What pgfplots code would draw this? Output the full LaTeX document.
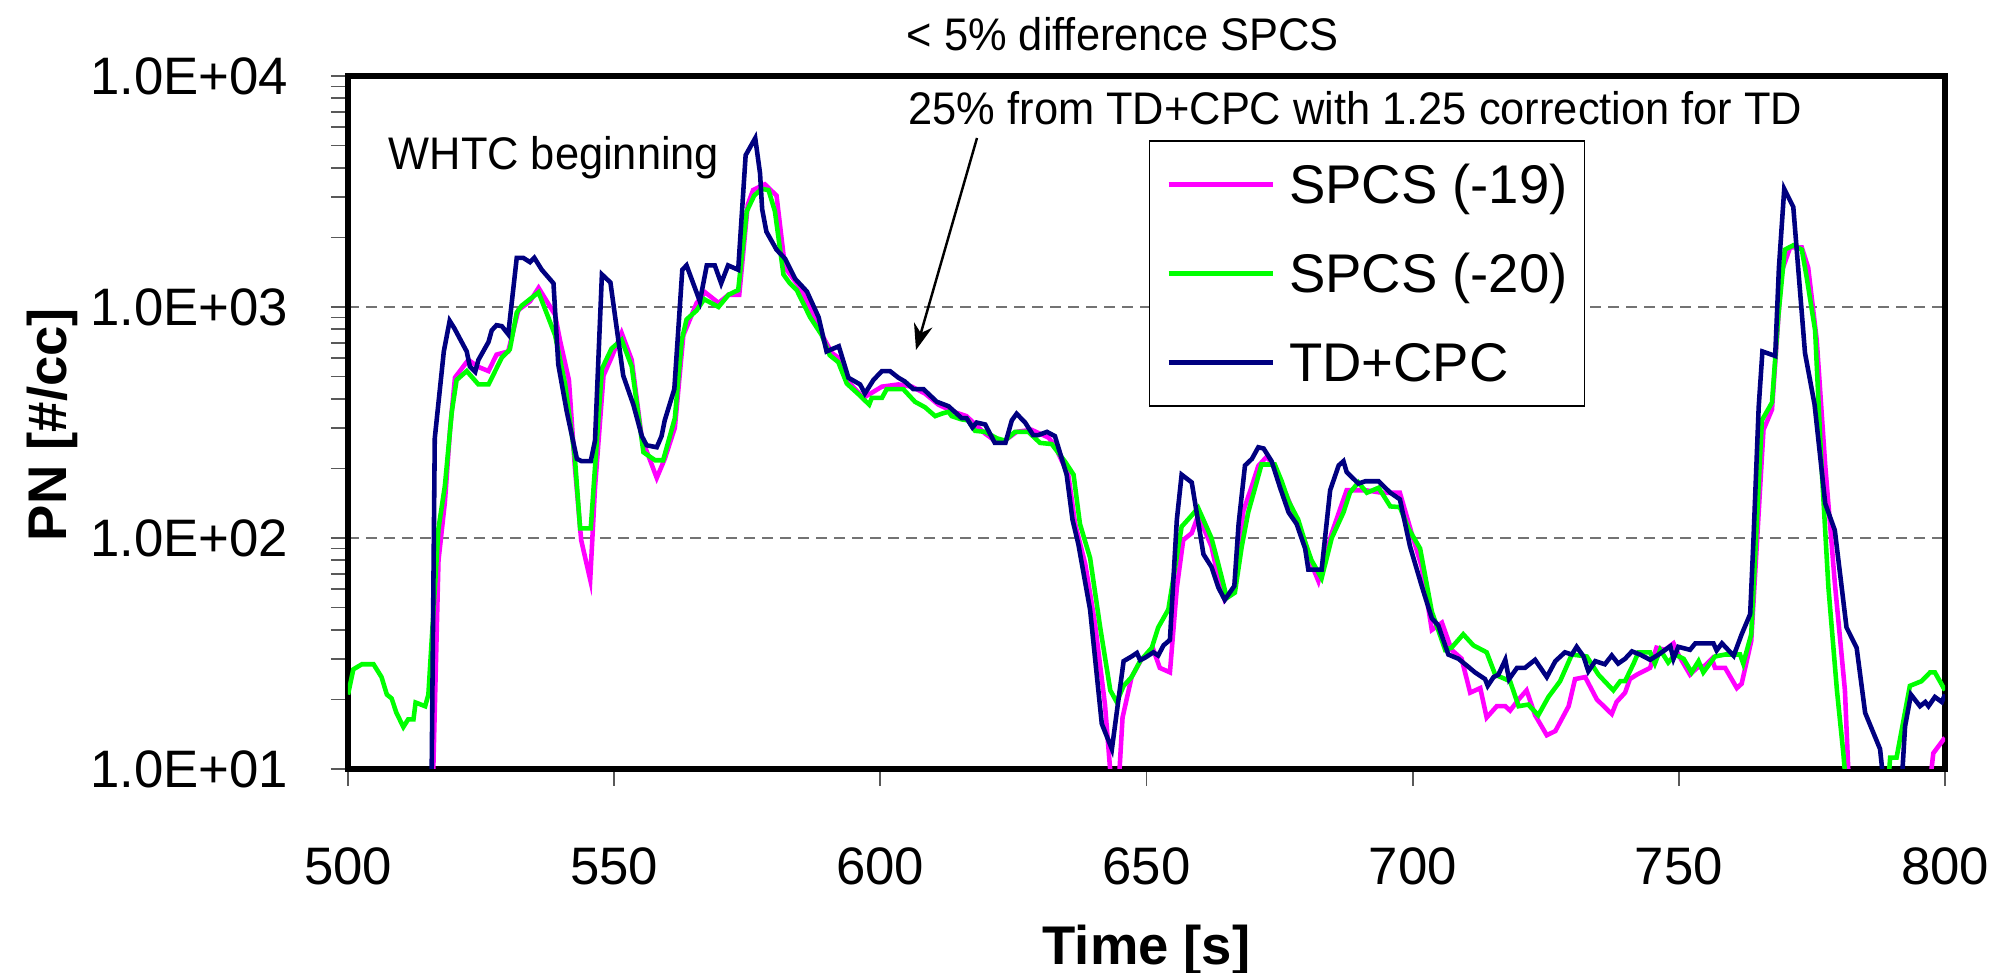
\documentclass[border=0pt]{standalone}
\usepackage{fontspec}
\setmainfont{Liberation Sans}
\usepackage{graphicx}
\usepackage{pgfplots}
\pgfplotsset{compat=1.18}
\usetikzlibrary{arrows.meta}
\definecolor{cMag}{RGB}{255,0,255}
\definecolor{cGrn}{RGB}{0,255,0}
\definecolor{cNav}{RGB}{0,0,128}
\begin{document}
\begin{tikzpicture}
\begin{axis}[
  scale only axis, width=159.7mm, height=69.3mm,
  xmin=500, xmax=800, ymode=log, ymin=10, ymax=10000,
  axis line style={line width=1.6pt},
  xtick={500,550,600,650,700,750,800},
  xticklabels={500,550,600,650,700,750,800},
  ytick={10,100,1000,10000},
  yticklabels={1.0E+01,1.0E+02,1.0E+03,1.0E+04},
  xtick pos=left, ytick pos=left, tick align=outside,
  major tick length=1.7mm, minor tick length=1.7mm,
  tick style={black!65, line width=0.5pt},
  ymajorgrids,
  major grid style={black!55, line width=0.5pt, dash pattern=on 1.1mm off 0.7mm},
  tick label style={font=\fontsize{15pt}{18pt}\selectfont, inner sep=0pt},
  xticklabel style={anchor=base, yshift=-9.9mm},
  yticklabel style={anchor=east, xshift=-4.2mm},
  xlabel={Time [s]},
  xlabel style={font=\bfseries\fontsize{15.5pt}{18pt}\selectfont, at={(axis description cs:0.5,-0.2814)}, anchor=base, inner sep=0pt},
  ylabel={PN [\#/cc]},
  ylabel style={font=\bfseries\fontsize{15.5pt}{18pt}\selectfont, at={(axis description cs:-0.176,0.497)}, anchor=base, inner sep=0pt},
  legend style={at={(axis description cs:0.5013,0.9077)}, anchor=north west, draw=black, line width=0.5pt, fill=white,
    inner xsep=1.7mm, inner ysep=1.6mm, row sep=3.4mm, column sep=1.4mm,
    font=\fontsize{15.5pt}{18pt}\selectfont,
    nodes={inner sep=0pt, text height=4.65mm, text depth=0.85mm}},
  legend cell align=left,
  legend image code/.code={\draw[#1] (0mm,0mm) -- (10.4mm,0mm);},
]
\addplot[cMag, line width=1.3pt] coordinates {
(515.7,5) (517.0,80) (518.2,143) (519.2,300) (520.1,495) (522.6,590) (524.5,550) (526.4,528) (527.9,622) (530.1,642) (532.0,970) (534.2,1058) (535.8,1210) (538.9,925) (539.8,721) (541.5,483) (542.6,206) (543.8,98) (545.5,66) (546.4,165) (548.0,505) (549.5,604) (551.4,772) (553.3,590) (555.2,270) (558.0,182) (559.5,220) (561.4,300) (563.0,755) (565.5,1041) (567.1,1157) (569.6,1041) (571.5,1130) (573.5,1130) (575.1,2775) (576.1,3208) (578.3,3397) (580.5,3034) (582.1,1479) (584.6,1239) (587.1,966) (589.3,738) (590.9,632) (592.1,604) (593.7,483) (596.8,404) (600.3,452) (603.4,462) (605.9,452) (608.4,422) (610.9,378) (613.7,352) (616.2,337) (617.8,310) (619.7,283) (621.5,264) (623.4,264) (625.6,288) (628.4,294) (631.6,272) (632.8,250) (635.3,188) (636.6,115) (638.5,77) (640.3,43) (642.2,19) (643.5,8) (644.7,8) (645.5,16.7) (647.2,25) (649.1,30) (651.3,32.8) (652.5,27.4) (654.4,26.2) (655.7,61) (656.9,98) (658.5,105) (659.7,125) (662.2,92) (663.5,67) (664.7,54) (666.5,61) (668.2,131) (669.8,168) (671.0,205) (672.6,225) (674.1,202) (675.7,165) (677.9,125) (679.8,96) (681.0,77) (682.3,65) (684.8,105) (687.6,161) (691.1,161) (694.2,157) (697.6,157) (699.8,105) (701.7,75) (703.6,40) (705.5,43) (707.3,32.8) (709.2,30) (710.8,21.4) (712.7,22.4) (713.9,16.7) (715.8,18.7) (717.4,18.7) (718.3,17.9) (719.9,20) (721.4,21.9) (723.0,17.1) (725.2,14) (726.8,14.6) (729.3,18.7) (730.5,24.5) (732.4,25) (734.6,20) (737.4,17.3) (738.3,19.5) (739.9,21.4) (740.8,24.5) (742.1,25.6) (744.6,27.4) (745.8,33.5) (747.4,32.8) (749.0,35) (749.9,31.3) (752.1,25.6) (753.4,27.4) (754.9,28) (756.2,30) (756.8,27.4) (758.7,27.4) (760.9,22.4) (761.8,23.4) (763.6,35.8) (765.9,294) (767.5,360) (769.3,1420) (770.9,1810) (773.1,1810) (774.3,1479) (775.9,721) (777.5,206) (779.3,64) (781.2,21.9) (782.0,8) (797.0,8) (797.8,11.7) (799.7,13.4) (800,13.2)
};
\addlegendentry{SPCS (-19)}
\addplot[cGrn, line width=1.3pt] coordinates {
(500,21) (501,27) (502.6,28.4) (504.8,28.4) (506.3,25) (507.3,21) (508.2,20.2) (509.1,17.5) (510.4,15.2) (511.3,16.4) (512.3,16.4) (512.7,19.4) (514.5,18.7) (515.1,21) (517.0,110) (518.2,168) (519.5,352) (520.4,483) (522.3,528) (524.5,462) (526.4,462) (528.9,604) (530.4,655) (531.7,946) (532.6,1012) (535.8,1157) (537.6,904) (538.9,755) (540.8,462) (542.6,225) (543.6,110) (545.6,110) (547.7,540) (549.5,660) (551.4,721) (553.3,552) (555.5,235) (557.7,217) (559.2,217) (561.4,330) (562.7,721) (563.6,883) (565.5,966) (566.9,1081) (569.6,1000) (571.5,1130) (573.3,1183) (574.9,2593) (576.3,3034) (577.7,3245) (579.0,3208) (580.2,2593) (581.8,1383) (583.0,1266) (584.3,1183) (586.8,904) (589.0,755) (590.5,618) (592.1,577) (593.7,466) (595.9,419) (597.9,378) (598.4,404) (600.3,404) (601.2,441) (604.3,441) (606.5,389) (608.4,368) (610.3,337) (611.5,345) (612.8,352) (613.4,337) (615.3,326) (616.5,323) (617.8,291) (619.7,288) (621.9,270) (623.4,264) (625.3,288) (627.8,288) (630.0,258) (632.2,255) (634.7,214) (636.3,188) (637.5,115) (639.4,82) (641.3,41) (643.2,21.9) (644.4,19.5) (645.7,22.9) (647.2,25) (648.8,29.3) (651.0,33.5) (652.2,41) (654.1,49) (656.6,112) (658.2,123) (659.7,135) (662.2,100) (663.5,77) (665.1,55) (666.6,58) (667.9,92) (669.1,129) (670.4,165) (671.6,208) (674.1,208) (675.4,176) (676.7,144) (678.5,120) (679.8,96) (681.0,80) (682.9,67) (684.8,100) (687.0,129) (688.2,157) (689.8,174) (691.4,157) (693.6,165) (695.8,137) (697.6,136) (699.2,110) (701.4,90) (703.6,48) (704.8,40) (706.1,32.8) (707.3,33.5) (709.5,38.3) (711.4,34.3) (713.9,32) (715.5,25.6) (718.3,24) (719.9,18.7) (721.7,19) (723.6,17.1) (725.5,20.5) (727.7,24) (729.9,31.3) (732.7,30.7) (734.9,25.6) (736.5,23.4) (737.7,21.9) (739.0,24) (739.9,24) (741.5,28.6) (742.4,32) (744.6,32) (745.5,28.6) (746.5,32.8) (748.0,28.9) (749.3,31.3) (750.9,30) (752.4,26.2) (753.7,29.3) (754.6,26.2) (756.8,30.7) (758.7,31.3) (761.5,31.3) (762.1,28.6) (763.6,38.3) (765.6,323) (767.5,386) (768.7,920) (769.9,1770) (771.5,1850) (773.1,1770) (774.0,1350) (775.6,792) (776.8,206) (778.1,61) (779.7,21.9) (780.9,11.7) (781.5,8) (789.2,8) (789.7,11.2) (790.9,11.2) (793.4,22.9) (795.6,24) (797.2,26.2) (798.1,26.2) (800,21.9)
};
\addlegendentry{SPCS (-20)}
\addplot[cNav, line width=1.3pt] coordinates {
(515.6,5) (516.3,270) (518.0,642) (519.1,871) (520.0,807) (522.3,642) (522.9,552) (523.9,524) (524.5,590) (526.4,706) (527.0,792) (527.9,834) (528.9,826) (530.1,762) (531.7,1633) (532.9,1633) (534.2,1563) (535.0,1633) (536.4,1449) (538.6,1266) (539.5,564) (541.1,352) (543.0,220) (543.9,215) (545.6,215) (546.4,264) (547.7,1383) (549.3,1276) (551.7,505) (553.6,378) (555.2,276) (556.1,252) (558.0,247) (558.9,276) (559.5,323) (561.3,441) (562.8,1449) (563.6,1514) (566.1,1058) (567.4,1514) (568.9,1514) (570.1,1266) (571.4,1514) (573.3,1449) (574.7,4540) (576.5,5380) (577.4,3795) (577.8,2650) (578.6,2118) (580.5,1770) (582.1,1619) (584.0,1324) (586.2,1167) (588.4,904) (589.9,642) (592.2,676) (594.0,494) (596.2,462) (597.1,422) (598.7,483) (600.3,528) (601.8,528) (603.4,494) (604.6,476) (606.2,441) (608.1,441) (610.6,389) (612.8,372) (615.3,330) (616.2,330) (617.3,301) (618.1,316) (619.7,310) (621.5,258) (623.5,258) (624.7,323) (625.6,345) (627.2,316) (628.7,279) (629.7,279) (631.3,288) (632.8,276) (635.0,188) (636.1,120) (637.2,94) (639.4,49) (641.6,15.7) (643.5,12.2) (644.4,17.5) (645.7,29.3) (647.2,30.7) (648.2,31.8) (648.8,29.6) (649.7,30.3) (651.3,32) (652.2,31) (653.2,34.3) (654.4,36.2) (655.7,120) (656.6,188) (658.5,174) (660.7,85) (662.2,75) (663.5,61) (664.7,54) (666.5,62) (667.3,115) (668.5,206) (669.8,220) (671.0,247) (672.0,244) (673.5,215) (675.1,165) (676.7,129) (678.2,115) (679.8,90) (680.4,73) (682.9,73) (684.5,161) (686.1,206) (687.0,215) (687.6,193) (689.8,172) (691.1,176) (693.6,176) (695.8,157) (697.6,147) (699.5,92) (701.7,62) (703.6,44.9) (704.8,41.9) (706.7,31.3) (708.6,30) (710.2,28) (711.7,26.2) (713.6,24.5) (714.1,22.9) (715.2,25) (716.1,25.6) (717.4,29.7) (718.1,24.5) (719.6,27.4) (721.1,27.4) (723.0,29.7) (725.2,25) (726.8,29.3) (728.6,32) (729.9,31.3) (730.8,33.8) (732.1,30.7) (733.0,26.5) (734.3,29.3) (736.1,28.4) (737.4,31) (738.6,28.6) (739.9,30) (741.2,32.3) (742.7,31.3) (744.6,29.7) (746.2,31.3) (748.4,34) (749.0,30) (749.9,33.8) (752.1,32.8) (753.1,35) (754.6,35) (756.5,35) (757.1,32.6) (758.1,35) (760.3,30.9) (761.8,38.3) (763.4,46.8) (764.0,96) (765.0,369) (765.7,642) (768.1,614) (768.8,1479) (769.8,3245) (771.5,2710) (773.7,632) (775.5,378) (777.5,141) (779.3,108) (781.5,41) (783.4,33.5) (785.0,17.5) (787.8,12.2) (788.4,9) (789,5) (791.5,5) (791.9,9) (792.5,15.3) (793.6,21) (795.3,18.7) (796.3,19.5) (796.9,18.7) (798.1,20.5) (799.4,19.5) (800,21)
};
\addlegendentry{TD+CPC}
\end{axis}
\node[anchor=base west, inner sep=0pt, font=\fontsize{13pt}{15pt}\selectfont] at (4.0mm,59.9mm) {\scalebox{0.95}[1]{WHTC beginning}};
\node[anchor=base west, inner sep=0pt, font=\fontsize{13pt}{15pt}\selectfont] at (55.8mm,71.8mm) {\scalebox{0.95}[1]{< 5\% difference SPCS}};
\node[anchor=base west, inner sep=0pt, font=\fontsize{13pt}{15pt}\selectfont] at (56.0mm,64.4mm) {\scalebox{0.95}[1]{25\% from TD+CPC with 1.25 correction for TD}};
\draw[line width=0.7pt, -{Stealth[length=2.6mm,width=1.9mm]}] (62.9mm,63.1mm) -- (56.8mm,41.9mm);
\pgfresetboundingbox
\path[use as bounding box] (-34.8mm,-20.4mm) rectangle (165.2mm,76.9mm);
\end{tikzpicture}
\end{document}
